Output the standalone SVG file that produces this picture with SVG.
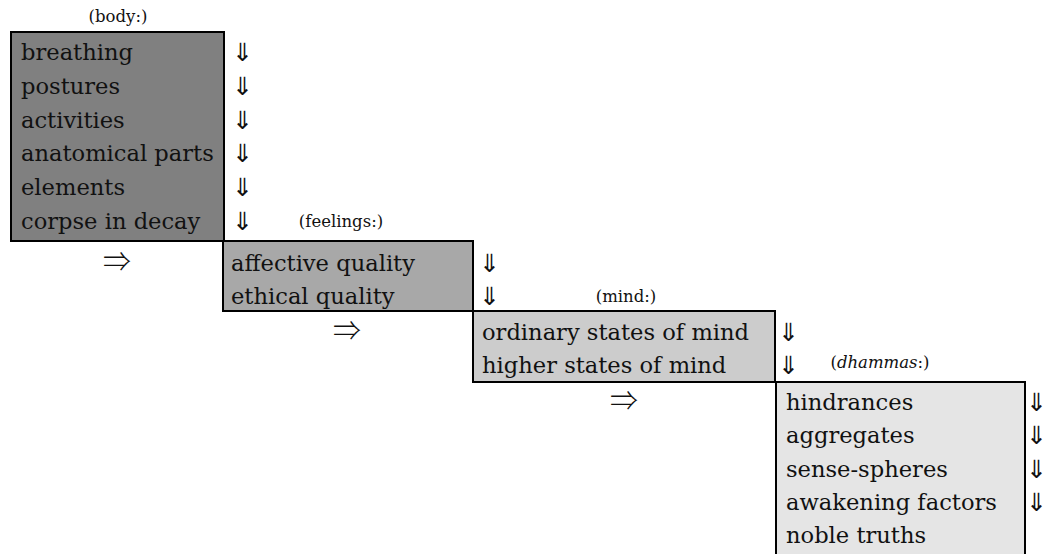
<svg xmlns="http://www.w3.org/2000/svg" width="1046" height="554" viewBox="0 0 1046 554">
<style>
.box{stroke:#000;stroke-width:2}
.t{font-family:"DejaVu Serif","Liberation Serif",serif;font-size:22.6px;fill:#111}
.lb{font-family:"DejaVu Serif","Liberation Serif",serif;font-size:16.5px;fill:#111;text-anchor:middle}
.ar{font-family:"DejaVu Sans",sans-serif;font-size:25px;fill:#111}
.ac{font-family:"Noto Sans CJK JP","DejaVu Sans",sans-serif;font-size:28px;font-weight:300;fill:#111;text-anchor:middle}
</style>
<rect width="1046" height="554" fill="#fff"/>
<g id="body">
<text class="lb" x="118" y="22">(body:)</text>
<rect class="box" x="11" y="32" width="213" height="209" fill="#808080"/>
<text class="t" x="21" y="60">breathing</text>
<text class="t" x="21" y="94">postures</text>
<text class="t" x="21" y="128">activities</text>
<text class="t" x="21" y="161">anatomical parts</text>
<text class="t" x="21" y="195">elements</text>
<text class="t" x="21" y="229">corpse in decay</text>
</g>
<g id="feelings">
<text class="lb" x="341" y="227">(feelings:)</text>
<rect class="box" x="223" y="241" width="250" height="70" fill="#a8a8a8"/>
<text class="t" x="231" y="271">affective quality</text>
<text class="t" x="231" y="304">ethical quality</text>
</g>
<g id="mind">
<text class="lb" x="626" y="302">(mind:)</text>
<rect class="box" x="473" y="311" width="302" height="71" fill="#cccccc"/>
<text class="t" x="482" y="340">ordinary states of mind</text>
<text class="t" x="482" y="373">higher states of mind</text>
</g>
<g id="dhammas">
<text class="lb" x="880" y="368">(<tspan font-style="italic">dhammas</tspan>:)</text>
<rect class="box" x="776" y="382" width="249" height="200" fill="#e5e5e5"/>
<text class="t" x="786" y="410">hindrances</text>
<text class="t" x="786" y="443">aggregates</text>
<text class="t" x="786" y="477">sense-spheres</text>
<text class="t" x="786" y="510">awakening factors</text>
<text class="t" x="786" y="543">noble truths</text>
</g>
<g id="connectors">
<text class="ar" x="232" y="61">⇓</text>
<text class="ar" x="232" y="95">⇓</text>
<text class="ar" x="232" y="129">⇓</text>
<text class="ar" x="232" y="162">⇓</text>
<text class="ar" x="232" y="196">⇓</text>
<text class="ar" x="232" y="230">⇓</text>
<text class="ac" x="117" y="272">⇒</text>
<text class="ar" x="479" y="272">⇓</text>
<text class="ar" x="479" y="305">⇓</text>
<text class="ac" x="347" y="341">⇒</text>
<text class="ar" x="778" y="341">⇓</text>
<text class="ar" x="778" y="374">⇓</text>
<text class="ac" x="624" y="411">⇒</text>
<text class="ar" x="1026" y="411">⇓</text>
<text class="ar" x="1026" y="444">⇓</text>
<text class="ar" x="1026" y="478">⇓</text>
<text class="ar" x="1026" y="511">⇓</text>
</g>
</svg>
